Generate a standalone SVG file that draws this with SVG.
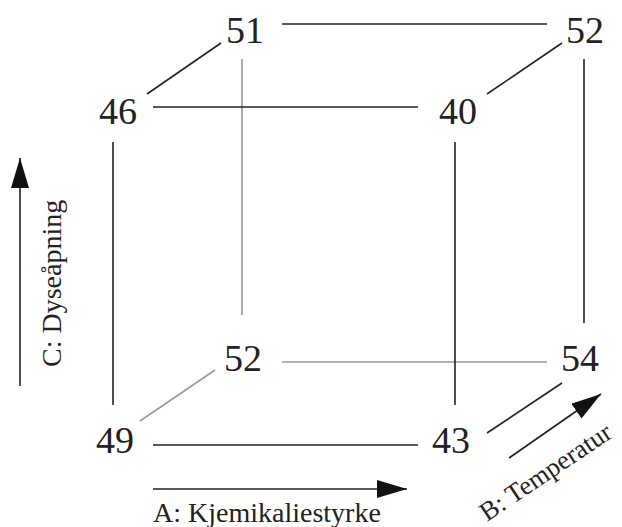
<svg xmlns="http://www.w3.org/2000/svg" width="622" height="527" viewBox="0 0 622 527">
<style>
.n{font-family:"Liberation Serif","Times New Roman",serif;font-size:38px;fill:#222;text-anchor:middle}
.l{font-family:"Liberation Serif","Times New Roman",serif;font-size:28px;fill:#222}
.k{stroke:#222;stroke-width:1.6;fill:none}
.g{stroke:#999;stroke-width:1.6;fill:none}
</style>
<defs>
<marker id="ah" markerWidth="30" markerHeight="18" refX="30" refY="9" orient="auto" markerUnits="userSpaceOnUse">
<path d="M0,0 L30,9 L0,18 Z" fill="#111"/>
</marker>
</defs>
<rect width="622" height="527" fill="#fff"/>
<g id="connectors">
<line class="g" x1="242" y1="59" x2="242" y2="315"/>
<line class="g" x1="282" y1="362" x2="547" y2="362"/>
<line class="g" x1="140" y1="421" x2="215" y2="370"/>
<line class="k" x1="282" y1="24" x2="547" y2="24"/>
<line class="k" x1="153" y1="107" x2="418" y2="107"/>
<line class="k" x1="147" y1="94" x2="221" y2="43"/>
<line class="k" x1="487" y1="94" x2="562" y2="43"/>
<line class="k" x1="113" y1="142" x2="113" y2="405"/>
<line class="k" x1="455" y1="142" x2="455" y2="405"/>
<line class="k" x1="584" y1="59" x2="584" y2="323"/>
<line class="k" x1="153" y1="445" x2="418" y2="445"/>
<line class="k" x1="487" y1="433" x2="562" y2="383"/>
</g>
<g id="axes">
<line class="k" x1="153" y1="489" x2="407" y2="489" marker-end="url(#ah)"/>
<line class="k" x1="20" y1="386" x2="20" y2="158" marker-end="url(#ah)"/>
<line class="k" x1="509" y1="458" x2="601" y2="394" marker-end="url(#ah)"/>
<text class="l" x="153" y="522">A: Kjemikaliestyrke</text>
<text class="l" transform="translate(61,367) rotate(-90)">C: Dyseåpning</text>
<text class="l" style="font-size:26.5px" transform="translate(487,522) rotate(-34)">B: Temperatur</text>
</g>
<g id="n51"><text class="n" x="245" y="43">51</text></g>
<g id="n52a"><text class="n" x="585" y="43">52</text></g>
<g id="n46"><text class="n" x="118" y="124">46</text></g>
<g id="n40"><text class="n" x="458" y="124">40</text></g>
<g id="n52b"><text class="n" x="243" y="371">52</text></g>
<g id="n54"><text class="n" x="580" y="371">54</text></g>
<g id="n49"><text class="n" x="115" y="453">49</text></g>
<g id="n43"><text class="n" x="451" y="453">43</text></g>
</svg>
